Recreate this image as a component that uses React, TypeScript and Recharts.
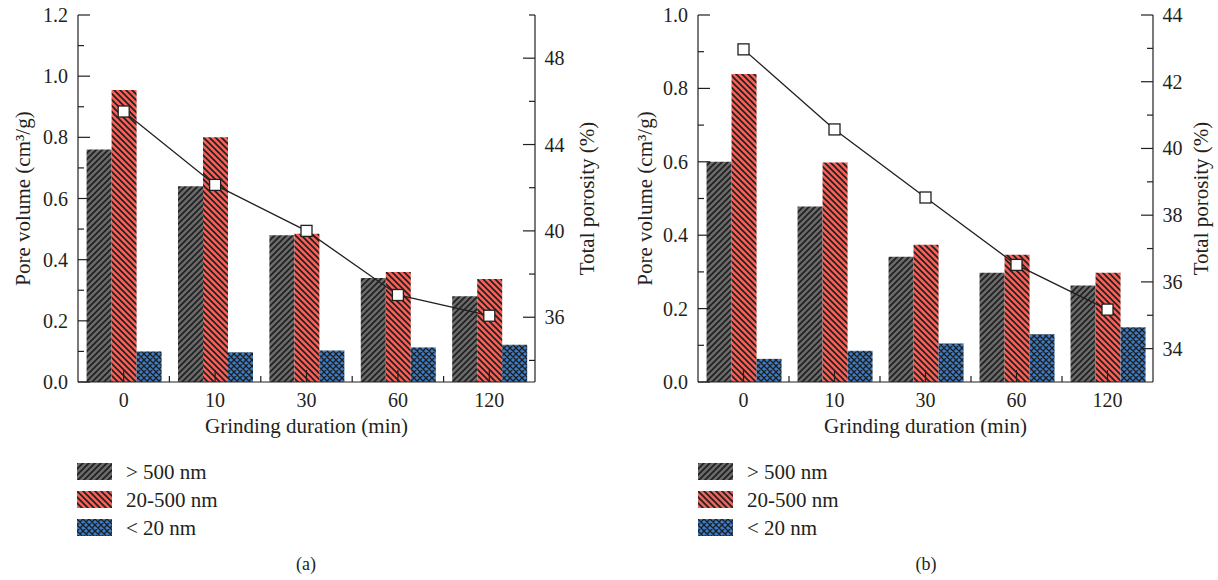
import React from 'react';
import { ComposedChart, Bar, Line, XAxis, YAxis, Legend } from 'recharts';

// ---------- data ----------
const categories = ['0', '10', '30', '60', '120'];
const seriesNames = ['> 500 nm', '20-500 nm', '< 20 nm'];

const coarseA = [0.76, 0.64, 0.48, 0.34, 0.28];
const mediumA = [0.955, 0.8, 0.485, 0.36, 0.337];
const fineA = [0.1, 0.097, 0.103, 0.113, 0.122];
const porosityA = [45.53, 42.13, 40.0, 37.03, 36.07];

const coarseB = [0.6, 0.478, 0.341, 0.298, 0.263];
const mediumB = [0.839, 0.598, 0.374, 0.347, 0.298];
const fineB = [0.063, 0.085, 0.105, 0.13, 0.149];
const porosityB = [42.97, 40.57, 38.53, 36.51, 35.17];

const volumeTicksA = [0, 0.1, 0.2, 0.3, 0.4, 0.5, 0.6, 0.7, 0.8, 0.9, 1.0, 1.1, 1.2];
const volumeMajorA = [0, 0.2, 0.4, 0.6, 0.8, 1.0, 1.2];
const porosityTicksA = [34, 36, 38, 40, 42, 44, 46, 48, 50];
const porosityMajorA = [36, 40, 44, 48];

const volumeTicksB = [0, 0.1, 0.2, 0.3, 0.4, 0.5, 0.6, 0.7, 0.8, 0.9, 1.0];
const volumeMajorB = [0, 0.2, 0.4, 0.6, 0.8, 1.0];
const porosityTicksB = [34, 35, 36, 37, 38, 39, 40, 41, 42, 43, 44];
const porosityMajorB = [34, 36, 38, 40, 42, 44];

// ---------- styles ----------
const INK = '#231f20';
const FONT = "'Liberation Serif', 'Times New Roman', serif";
const GRAY = '#6a6a6a';
const RED = '#f0625a';
const BLUE = '#3b7dc8';

const isMajor = (v: number, majors: number[]) => majors.some((m) => Math.abs(m - v) < 1e-6);

function Patterns({ id }: { id: string }) {
  return (
    <defs>
      <pattern id={`gray-${id}`} patternUnits="userSpaceOnUse" width={6} height={6}>
        <rect width={6} height={6} fill={GRAY} />
        <path d="M0,6 L6,0 M-1.5,1.5 L1.5,-1.5 M4.5,7.5 L7.5,4.5" stroke="#1e1e1e" strokeWidth={1.6} />
      </pattern>
      <pattern id={`red-${id}`} patternUnits="userSpaceOnUse" width={6} height={6}>
        <rect width={6} height={6} fill={RED} />
        <path d="M0,0 L6,6 M-1.5,4.5 L1.5,7.5 M4.5,-1.5 L7.5,1.5" stroke="#1e1e1e" strokeWidth={1.6} />
      </pattern>
      <pattern id={`blue-${id}`} patternUnits="userSpaceOnUse" width={6} height={6}>
        <rect width={6} height={6} fill={BLUE} />
        <path
          d="M0,0 L6,6 M-1.5,4.5 L1.5,7.5 M4.5,-1.5 L7.5,1.5 M0,6 L6,0 M-1.5,1.5 L1.5,-1.5 M4.5,7.5 L7.5,4.5"
          stroke="#1e1e1e"
          strokeWidth={1.3}
        />
      </pattern>
    </defs>
  );
}

function LeftTick(props: any) {
  const { x, y, payload, majors } = props;
  const major = isMajor(payload.value, majors);
  return (
    <g>
      <line x1={x} y1={y} x2={x + (major ? 12 : 6)} y2={y} stroke={INK} strokeWidth={1.2} />
      {major && (
        <text x={x - 10} y={y + 7} textAnchor="end" fontSize={20} fontFamily={FONT} fill={INK}>
          {Number(payload.value).toFixed(1)}
        </text>
      )}
    </g>
  );
}

function RightTick(props: any) {
  const { x, y, payload, majors } = props;
  const major = isMajor(payload.value, majors);
  return (
    <g>
      <line x1={x} y1={y} x2={x - (major ? 12 : 6)} y2={y} stroke={INK} strokeWidth={1.2} />
      {major && (
        <text x={x + 9.5} y={y + 7} textAnchor="start" fontSize={20} fontFamily={FONT} fill={INK}>
          {payload.value}
        </text>
      )}
    </g>
  );
}

function BottomTick(props: any) {
  const { x, y, payload, index, visibleTicksCount } = props;
  const off = payload && payload.offset;
  return (
    <g>
      <line x1={x} y1={y} x2={x} y2={y - 12} stroke={INK} strokeWidth={1.2} />
      {off && index < visibleTicksCount - 1 ? (
        <line x1={x + off} y1={y} x2={x + off} y2={y - 6} stroke={INK} strokeWidth={1.2} />
      ) : null}
      <text x={x} y={y + 25} textAnchor="middle" fontSize={20} fontFamily={FONT} fill={INK}>
        {payload.value}
      </text>
    </g>
  );
}

function VTitle(props: any) {
  const { viewBox, dx, children } = props;
  if (!viewBox) return null;
  const cx = viewBox.x + dx;
  const cy = viewBox.y + viewBox.height / 2;
  return (
    <text
      x={cx}
      y={cy}
      transform={`rotate(-90 ${cx} ${cy})`}
      textAnchor="middle"
      dominantBaseline="central"
      fontSize={21}
      fontFamily={FONT}
      fill={INK}
    >
      {children}
    </text>
  );
}

function XTitle(props: any) {
  const { viewBox, text } = props;
  if (!viewBox) return null;
  return (
    <text
      x={viewBox.x + viewBox.width / 2}
      y={viewBox.y + 51}
      textAnchor="middle"
      fontSize={21}
      fontFamily={FONT}
      fill={INK}
    >
      {text}
    </text>
  );
}

function LegendBox({ id }: { id: string }) {
  const pid = `lg-${id}`;
  const fills = [`url(#gray-${pid})`, `url(#red-${pid})`, `url(#blue-${pid})`];
  return (
    <svg width={200} height={80} style={{ display: 'block', overflow: 'visible' }}>
      <Patterns id={pid} />
      {seriesNames.map((name, i) => (
        <g key={name} transform={`translate(0, ${i * 28})`}>
          <rect x={0} y={0} width={35} height={17} fill={fills[i]} />
          <text x={49} y={15.5} fontSize={21} fontFamily={FONT} fill={INK}>
            {name}
          </text>
        </g>
      ))}
    </svg>
  );
}

type PanelProps = {
  id: string;
  coarse: number[];
  medium: number[];
  fine: number[];
  porosity: number[];
  volumeTicks: number[];
  volumeMajor: number[];
  volumeMax: number;
  porosityTicks: number[];
  porosityMajor: number[];
  porosityDomain: [number, number];
  width: number;
  rightAxisWidth: number;
  leftTitleDx: number;
  rightTitleDx: number;
  legendLeft: number;
};

function Panel(p: PanelProps) {
  const data = categories.map((c, i) => ({
    cat: c,
    coarse: p.coarse[i],
    medium: p.medium[i],
    fine: p.fine[i],
    porosity: p.porosity[i],
  }));
  const axisLine = { stroke: INK, strokeWidth: 1.2 };
  return (
    <ComposedChart
      width={p.width}
      height={580}
      data={data}
      margin={{ top: 15, right: 0, bottom: 138, left: 0 }}
      barGap={0}
      barCategoryGap="9.4%"
    >
      <Patterns id={p.id} />
      <Bar dataKey="coarse" name={seriesNames[0]} fill={`url(#gray-${p.id})`} yAxisId="left" isAnimationActive={false} />
      <Bar dataKey="medium" name={seriesNames[1]} fill={`url(#red-${p.id})`} yAxisId="left" isAnimationActive={false} />
      <Bar dataKey="fine" name={seriesNames[2]} fill={`url(#blue-${p.id})`} yAxisId="left" isAnimationActive={false} />
      <XAxis
        dataKey="cat"
        height={60}
        axisLine={axisLine}
        tickLine={false}
        tickSize={0}
        tickMargin={0}
        interval={0}
        tick={(t: any) => <BottomTick {...t} />}
        label={<XTitle text="Grinding duration (min)" />}
      />
      <XAxis xAxisId="top" dataKey="cat" orientation="top" height={0} tick={false} tickLine={false} axisLine={axisLine} />
      <YAxis
        yAxisId="left"
        width={78}
        domain={[0, p.volumeMax]}
        ticks={p.volumeTicks}
        interval={0}
        axisLine={axisLine}
        tickLine={false}
        tickSize={0}
        tickMargin={0}
        tick={(t: any) => <LeftTick {...t} majors={p.volumeMajor} />}
        label={<VTitle dx={p.leftTitleDx}>Pore volume (cm³/g)</VTitle>}
      />
      <YAxis
        yAxisId="right"
        orientation="right"
        width={p.rightAxisWidth}
        domain={p.porosityDomain}
        ticks={p.porosityTicks}
        interval={0}
        axisLine={axisLine}
        tickLine={false}
        tickSize={0}
        tickMargin={0}
        tick={(t: any) => <RightTick {...t} majors={p.porosityMajor} />}
        label={<VTitle dx={p.rightTitleDx}>Total porosity (%)</VTitle>}
      />
      <Line
        yAxisId="right"
        dataKey="porosity"
        stroke={INK}
        strokeWidth={1.3}
        legendType="none"
        isAnimationActive={false}
        dot={(d: any) => (
          <rect
            key={`sq-${d.index}`}
            x={d.cx - 5.5}
            y={d.cy - 5.5}
            width={11}
            height={11}
            fill="#ffffff"
            stroke={INK}
            strokeWidth={1.3}
          />
        )}
      />
      <Legend
        layout="horizontal"
        verticalAlign="middle"
        align="center"
        wrapperStyle={{ left: p.legendLeft, top: 463, width: 200, height: 80 }}
        content={() => <LegendBox id={p.id} />}
      />
    </ComposedChart>
  );
}

export default function App() {
  const sub = {
    position: 'absolute' as const,
    top: 553,
    width: 60,
    textAlign: 'center' as const,
    fontSize: 18,
    fontFamily: FONT,
    color: INK,
    lineHeight: '22px',
  };
  return (
    <div style={{ position: 'absolute', left: 0, top: 0, width: 1218, height: 580, background: '#fff' }}>
      <div style={{ position: 'absolute', left: 0, top: 0 }}>
        <Panel
          id="a"
          coarse={coarseA}
          medium={mediumA}
          fine={fineA}
          porosity={porosityA}
          volumeTicks={volumeTicksA}
          volumeMajor={volumeMajorA}
          volumeMax={1.2}
          porosityTicks={porosityTicksA}
          porosityMajor={porosityMajorA}
          porosityDomain={[33, 50]}
          width={610}
          rightAxisWidth={75}
          leftTitleDx={23}
          rightTitleDx={52}
          legendLeft={77}
        />
      </div>
      <div style={{ position: 'absolute', left: 620, top: 0 }}>
        <Panel
          id="b"
          coarse={coarseB}
          medium={mediumB}
          fine={fineB}
          porosity={porosityB}
          volumeTicks={volumeTicksB}
          volumeMajor={volumeMajorB}
          volumeMax={1.0}
          porosityTicks={porosityTicksB}
          porosityMajor={porosityMajorB}
          porosityDomain={[33, 44]}
          width={598}
          rightAxisWidth={65}
          leftTitleDx={24.6}
          rightTitleDx={48}
          legendLeft={78}
        />
      </div>
      <div style={{ ...sub, left: 276 }}>(a)</div>
      <div style={{ ...sub, left: 896 }}>(b)</div>
    </div>
  );
}
